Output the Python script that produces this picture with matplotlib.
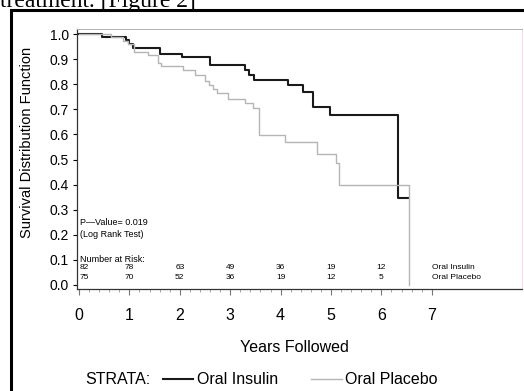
import numpy as np
import matplotlib
matplotlib.use('Agg')
import matplotlib.pyplot as plt
from matplotlib.patches import Rectangle
from matplotlib.ticker import MultipleLocator

plt.rcParams['font.family'] = ['Liberation Sans', 'DejaVu Sans']

# Kaplan-Meier step points (time in years, survival after the step)
insulin_t = [0, 0.45, 0.93, 1.0, 1.08, 1.6, 2.04, 2.6, 3.29, 3.38, 3.47,
             4.15, 4.44, 4.65, 4.98, 6.32, 6.53]
insulin_s = [1.0, 0.987, 0.975, 0.962, 0.945, 0.921, 0.907, 0.878, 0.858,
             0.838, 0.817, 0.795, 0.769, 0.708, 0.679, 0.345, 0.345]

placebo_t = [0, 0.63, 0.88, 0.97, 1.1, 1.36, 1.56, 1.62, 2.07, 2.30, 2.50,
             2.57, 2.66, 2.73, 2.96, 3.29, 3.46, 3.57, 4.08, 4.72, 5.10,
             5.16, 6.55]
placebo_s = [1.0, 0.987, 0.973, 0.96, 0.93, 0.915, 0.885, 0.872, 0.858,
             0.838, 0.813, 0.797, 0.78, 0.764, 0.742, 0.724, 0.705, 0.598,
             0.571, 0.522, 0.485, 0.398, 0.0]

risk_years = [0, 1, 2, 3, 4, 5, 6]
risk_insulin = [82, 78, 63, 49, 36, 19, 12]
risk_placebo = [75, 70, 52, 36, 19, 12, 5]
group_names = ['Oral Insulin', 'Oral Placebo']
p_value_text = 'P\u2014Value= 0.019'

W, H = 524, 391
fig = plt.figure(figsize=(W / 100, H / 100), dpi=100)

# page snippet above the figure frame (cut off at the top, as in the source)
fig.text(0 / W, 1 - 7 / H, 'treatment. [Figure 2]', family='Liberation Serif',
         fontsize=17, ha='left', va='baseline', color='black')
fig.patches.append(Rectangle((11 / W, -0.05), 1.2, 1 - 10 / H + 0.05,
                             transform=fig.transFigure, fill=False,
                             edgecolor='black', lw=2.2))

ax = fig.add_axes([77 / W, 1 - 289 / H, (522 - 77) / W, (289 - 29) / H])
ax.step(insulin_t, insulin_s, where='post', color='#1a1a1a', lw=1.5, zorder=2)
ax.step(placebo_t, placebo_s, where='post', color='#b5b5b5', lw=1.0, zorder=3)

ax.set_xlim(-0.04, 8.79)
ax.set_ylim(-0.016, 1.02)
ax.set_xticks(range(0, 8))
ax.set_xticks(np.arange(0, 7.01, 0.2), minor=True)
ax.set_yticks(np.arange(0, 1.01, 0.1))
ax.set_yticklabels(['%.1f' % v for v in np.arange(0, 1.01, 0.1)])
ax.tick_params(axis='y', labelsize=10, length=3, pad=3, width=0.8)
ax.tick_params(axis='x', which='major', labelsize=11.5, length=4, pad=10,
               width=0.8, color='#777777')
ax.tick_params(axis='x', which='minor', length=2.5, width=0.6, color='#999999')

for side in ['left', 'bottom']:
    ax.spines[side].set_color('#333333')
    ax.spines[side].set_linewidth(0.9)
ax.spines['top'].set_color('#b0b0b0')
ax.spines['top'].set_linewidth(0.7)
ax.spines['right'].set_color('#f3dede')
ax.spines['right'].set_linewidth(0.7)

# annotations inside the plot
small = 6.5
rows = 6.0
ax.text(0.02, 0.248, p_value_text, fontsize=small, va='center', ha='left')
ax.text(0.02, 0.202, '(Log Rank Test)', fontsize=small, va='center', ha='left')
ax.text(0.02, 0.100, 'Number at Risk:', fontsize=small, va='center', ha='left')
for i, yr in enumerate(risk_years):
    ha = 'left' if yr == 0 else 'center'
    xx = 0.02 if yr == 0 else yr
    ax.text(xx, 0.069, str(risk_insulin[i]), fontsize=rows, va='center', ha=ha)
    ax.text(xx, 0.031, str(risk_placebo[i]), fontsize=rows, va='center', ha=ha)
ax.text(7.0, 0.069, group_names[0], fontsize=rows, va='center', ha='left')
ax.text(7.0, 0.031, group_names[1], fontsize=rows, va='center', ha='left')

fig.text(294 / W, 1 - 347 / H, 'Years Followed', fontsize=11.5,
         ha='center', va='center')
fig.text(27 / W, 1 - 142 / H, 'Survival Distribution Function', fontsize=10.5,
         rotation=90, ha='center', va='center')

# legend row
fig.text(85 / W, 1 - 380 / H, 'STRATA:', fontsize=11.5, ha='left', va='center')
h1 = plt.Line2D([], [], color='#1a1a1a', lw=1.5)
h2 = plt.Line2D([], [], color='#b5b5b5', lw=1.0)
fig.legend([h1, h2], group_names, loc='center left',
           bbox_to_anchor=(163 / W, 1 - 380 / H), ncol=2, frameon=False,
           fontsize=11.5, handlelength=1.9, handletextpad=0.2,
           columnspacing=2.1, borderpad=0, borderaxespad=0)

fig.savefig('out.png', dpi=100)
